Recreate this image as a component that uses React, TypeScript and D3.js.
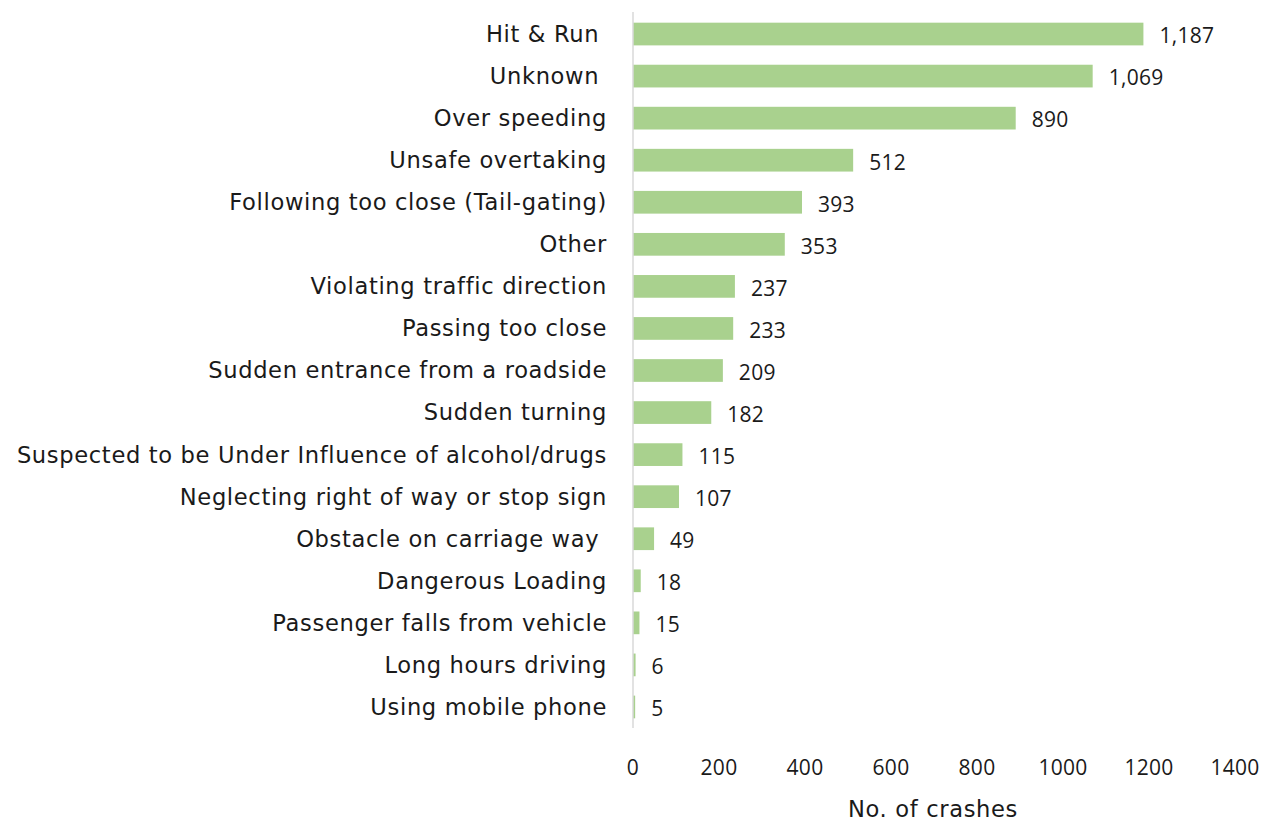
import React from "react";
import * as d3 from "d3";

const categories = [
  "Hit & Run ",
  "Unknown ",
  "Over speeding",
  "Unsafe overtaking",
  "Following too close (Tail-gating)",
  "Other",
  "Violating traffic direction",
  "Passing too close",
  "Sudden entrance from a roadside",
  "Sudden turning",
  "Suspected to be Under Influence of alcohol/drugs",
  "Neglecting right of way or stop sign",
  "Obstacle on carriage way ",
  "Dangerous Loading",
  "Passenger falls from vehicle",
  "Long hours driving",
  "Using mobile phone",
];
const values = [1187, 1069, 890, 512, 393, 353, 237, 233, 209, 182, 115, 107, 49, 18, 15, 6, 5];
const xTicks = [0, 200, 400, 600, 800, 1000, 1200, 1400];
const xTitle = "No. of crashes";

const FONT = "'DejaVu Sans', 'Open Sans', sans-serif";
const NUMFONT = "'Open Sans', 'Noto Sans', sans-serif";

export default function App() {
  const W = 1264, H = 822;
  const x = d3.scaleLinear().domain([0, 1400]).range([633, 1235]);
  const y = d3.scaleBand<string>().domain(categories).range([13, 728]).paddingInner(0.46).paddingOuter(0.23);
  const fmt = d3.format(",");
  return (
    <svg width={W} height={H} style={{ position: "absolute", left: 0, top: 0, background: "#fff" }}>
      {categories.map((c, i) => (
        <g key={c}>
          <rect x={x(0)} y={y(c)!} width={x(values[i]) - x(0)} height={y.bandwidth()} fill="#a9d18e" />
          <text x={607} y={y(c)! + y.bandwidth() / 2} dy="0.35em" textAnchor="end" fontFamily={FONT} fontSize={22.6} letterSpacing={0.65} fill="#1a1a1a" style={{ whiteSpace: "pre" }}>{c}</text>
          <text x={x(values[i]) + 16} y={y(c)! + y.bandwidth() / 2 + 2} dy="0.35em" fontFamily={NUMFONT} fontSize={21} letterSpacing={0.3} fill="#1a1a1a">{fmt(values[i])}</text>
        </g>
      ))}
      <line x1={x(0)} x2={x(0)} y1={12} y2={728} stroke="#d9d9d9" strokeWidth={1.5} />
      {xTicks.map((t) => (
        <text key={t} x={x(t)} y={768} dy="0.35em" textAnchor="middle" fontFamily={NUMFONT} fontSize={21} letterSpacing={0.3} fill="#1a1a1a">{t}</text>
      ))}
      <text x={933} y={809} dy="0.35em" textAnchor="middle" fontFamily={FONT} fontSize={22.6} letterSpacing={0.65} fill="#1a1a1a">{xTitle}</text>
    </svg>
  );
}
